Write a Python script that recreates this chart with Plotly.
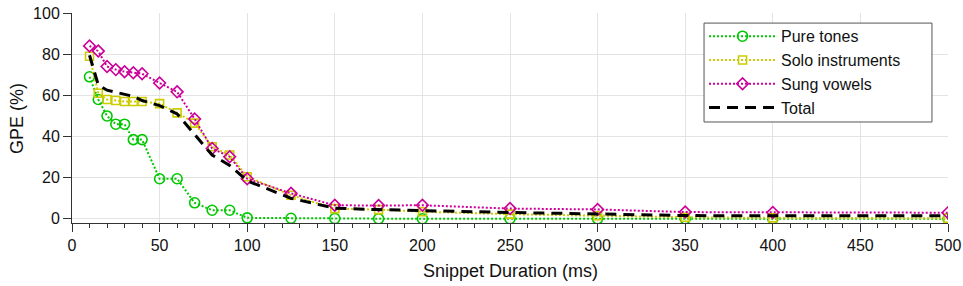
import plotly.graph_objects as go

duration_ms = [10, 15, 20, 25, 30, 35, 40, 50, 60, 70, 80, 90, 100, 125, 150, 175, 200, 250, 300, 350, 400, 500]
pure_tones = [69, 58, 50, 46, 46, 38.5, 38.5, 19.5, 19.5, 7.8, 4.2, 4.2, 0.5, 0.3, 0.2, 0.1, 0.1, 0.1, 0, 0, 0, 0]
solo_instruments = [79, 61, 58, 57.5, 57, 57, 57, 56, 51.5, 46.5, 35, 31, 20.5, 11.5, 5, 4.5, 3.5, 2.3, 1.5, 0.8, 0.5, 0.3]
sung_vowels = [84, 81.5, 74, 72.5, 71.5, 71, 70.5, 66, 61.7, 48.5, 34.2, 30.2, 19.5, 12.4, 6.6, 6.5, 6.6, 5.0, 4.6, 3.3, 3.1, 3.0]
total = [79.5, 65, 62.5, 61.5, 60.5, 59.5, 57.5, 55, 51, 41, 31, 26, 18.5, 10, 5.2, 4.5, 4, 3.1, 2.4, 1.6, 1.5, 1.5]

x_ticks = [0, 50, 100, 150, 200, 250, 300, 350, 400, 450, 500]
y_ticks = [0, 20, 40, 60, 80, 100]

FONT = "Liberation Sans, Arial, sans-serif"
GREEN = "#00c800"
YELLOW = "#cccc00"
MAGENTA = "#cc0099"

fig = go.Figure()
fig.add_trace(go.Scatter(
    x=duration_ms, y=pure_tones, name="Pure tones", mode="lines+markers",
    line=dict(color=GREEN, width=2, dash="2px,2px"),
    marker=dict(symbol="circle-open", size=10, color=GREEN, line=dict(width=1.6, color=GREEN)),
))
fig.add_trace(go.Scatter(
    x=duration_ms, y=solo_instruments, name="Solo instruments", mode="lines+markers",
    line=dict(color=YELLOW, width=2, dash="2px,2px"),
    marker=dict(symbol="square-open", size=8, color=YELLOW, line=dict(width=1.6, color=YELLOW)),
))
fig.add_trace(go.Scatter(
    x=duration_ms, y=sung_vowels, name="Sung vowels", mode="lines+markers",
    line=dict(color=MAGENTA, width=2, dash="2px,2px"),
    marker=dict(symbol="diamond-open", size=9, color=MAGENTA, line=dict(width=1.6, color=MAGENTA)),
))
fig.add_trace(go.Scatter(
    x=duration_ms, y=total, name="Total", mode="lines",
    line=dict(color="black", width=3, dash="11px,7px"),
))

fig.update_layout(
    width=963, height=286,
    margin=dict(l=72, r=15, t=13, b=63),
    paper_bgcolor="white", plot_bgcolor="white",
    font=dict(family=FONT, size=16, color="#111"),
    showlegend=True,
    legend=dict(
        x=0.7215, y=0.970, xanchor="left", yanchor="top",
        bgcolor="rgba(0,0,0,0)", borderwidth=0,
        font=dict(family=FONT, size=16, color="#111"),
        itemwidth=67, tracegroupgap=0,
    ),
    shapes=[
        dict(type="rect", xref="paper", yref="paper",
             x0=0.7215, x1=0.9817, y0=0.481, y1=0.952,
             fillcolor="white", line=dict(color="#555", width=1), layer="above"),
    ],
    xaxis=dict(
        range=[0, 500], tickvals=x_ticks, ticktext=[str(v) for v in x_ticks],
        showgrid=True, gridcolor="#e3e3e3", gridwidth=1,
        showline=True, linecolor="#333", linewidth=1,
        ticks="outside", ticklen=8, tickcolor="#333",
        minor=dict(dtick=10, tick0=0, ticks="outside", ticklen=4, tickcolor="#333", showgrid=False),
        zeroline=False, automargin=False, ticklabeloverflow="allow",
        tickfont=dict(family=FONT, size=16),
    ),
    yaxis=dict(
        range=[-2, 100], tickvals=y_ticks,
        showgrid=True, gridcolor="#e3e3e3", gridwidth=1,
        showline=True, linecolor="#333", linewidth=1,
        ticks="outside", ticklen=8, tickcolor="#333",
        zeroline=False, automargin=False, ticklabeloverflow="allow",
        tickfont=dict(family=FONT, size=16),
    ),
    annotations=[
        dict(text="Snippet Duration (ms)", xref="paper", yref="paper",
             x=0.501, y=-0.2286, xanchor="center", yanchor="middle",
             showarrow=False, font=dict(family=FONT, size=18, color="#111")),
        dict(text="GPE (%)", xref="paper", yref="paper", textangle=-90,
             x=-0.0628, y=0.5, xanchor="center", yanchor="middle",
             showarrow=False, font=dict(family=FONT, size=18, color="#111")),
    ],
)

fig.write_html("out.html", config={"displayModeBar": False},
               post_script="document.body.style.margin='0';")
